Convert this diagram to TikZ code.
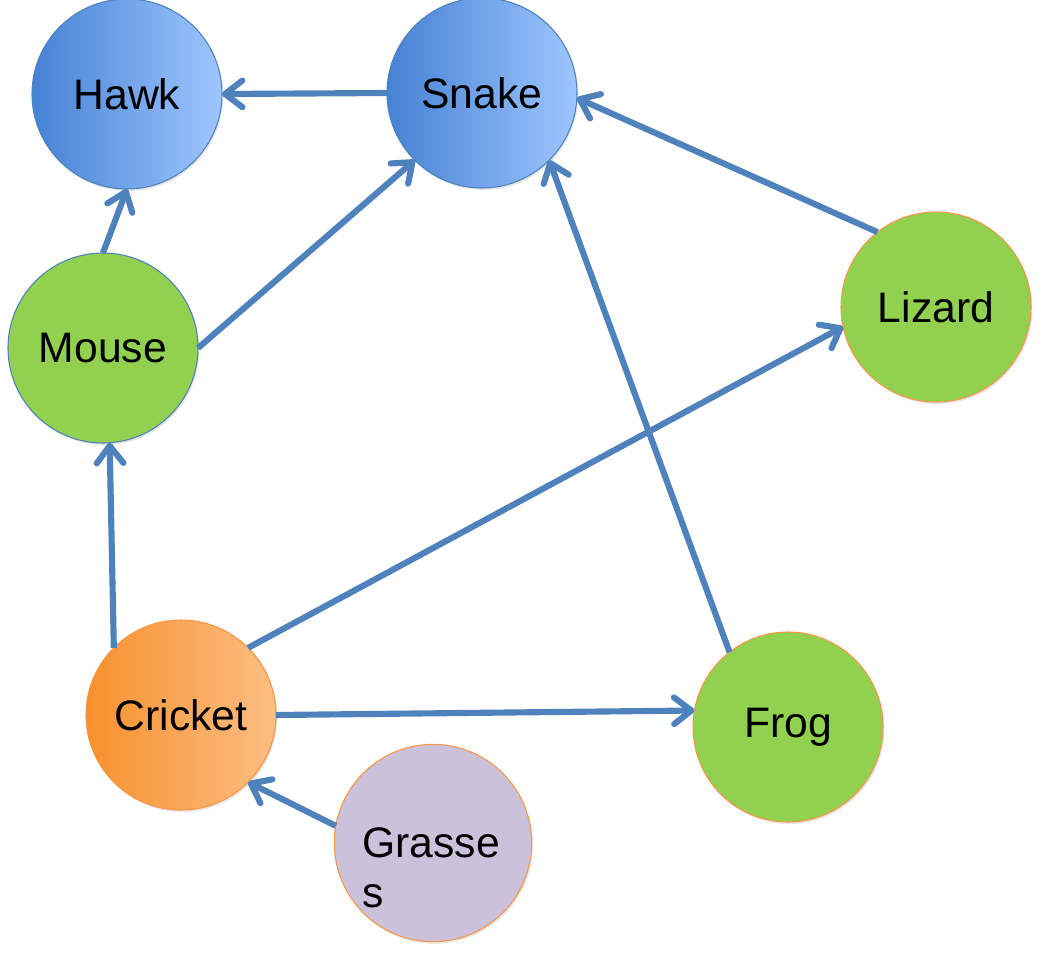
\documentclass[tikz,border=0pt]{standalone}
\usepackage{fontspec}
\setmainfont{Liberation Sans}
\usepackage{xcolor}
\usetikzlibrary{arrows.meta,shadows}

\definecolor{linkblue}{RGB}{79,129,189}
\definecolor{rimorange}{RGB}{247,150,70}
\definecolor{leafgreen}{RGB}{146,208,80}
\definecolor{lilac}{RGB}{204,193,218}
\definecolor{skydark}{RGB}{70,130,212}
\definecolor{skylight}{RGB}{158,198,255}
\definecolor{orangedark}{RGB}{247,145,45}
\definecolor{orangelight}{RGB}{252,190,130}

\tikzset{
  animal/.style={circle,minimum size=142.5pt,inner sep=0pt,outer sep=0pt,line width=0.8pt,
    font=\fontsize{32}{37.5}\selectfont,
    drop shadow={shadow xshift=1pt,shadow yshift=-1.5pt,opacity=0.2}},
  predator/.style={animal,draw=linkblue,left color=skydark,right color=skylight},
  grazer/.style={animal,draw=rimorange,fill=leafgreen},
  rodent/.style={animal,draw=linkblue,fill=leafgreen},
  insect/.style={animal,draw=rimorange,left color=orangedark,right color=orangelight},
  plant/.style={animal,draw=rimorange,fill=lilac,minimum size=148pt,text width=106pt,align=left},
  feeds/.style={draw=linkblue,line width=4.6pt,-{Straight Barb[length=13pt,width=20pt,round]}}
}

\begin{document}
\begin{tikzpicture}[x=0.75pt,y=0.75pt,yscale=-1,xscale=1]
\useasboundingbox (0,0) rectangle (1048,953);

%Shape: Circle
\node[predator] (hawk) at (127,94) {Hawk};
%Shape: Circle
\node[predator] (snake) at (482,93) {Snake};
%Shape: Circle
\node[rodent] (mouse) at (103,348) {Mouse};
%Shape: Circle
\node[grazer] (lizard) at (936,307) {Lizard};
%Shape: Circle
\node[insect] (cricket) at (181,715) {Cricket};
%Shape: Circle
\node[grazer] (frog) at (788,727) {Frog};
%Shape: Circle
\node[plant] (grasses) at (433,843) {\rule{0pt}{60pt}Grasse\\s};

%Straight Lines
\draw[feeds] (snake.west) -- (hawk.east);
\draw[feeds] (mouse.north) -- (hawk.south);
\draw[feeds] (mouse.east) -- (snake.south west);
\draw[feeds] (lizard.128) -- (snake.-3);
\draw[feeds] (frog.128) -- (snake.south east);
\draw[feeds] (cricket.north west) -- (mouse.-86);
\draw[feeds] (cricket.north east) -- (lizard.192);
\draw[feeds] (cricket.east) -- (frog.170);
\draw[feeds] (grasses.170) -- (cricket.south east);

\end{tikzpicture}
\end{document}
